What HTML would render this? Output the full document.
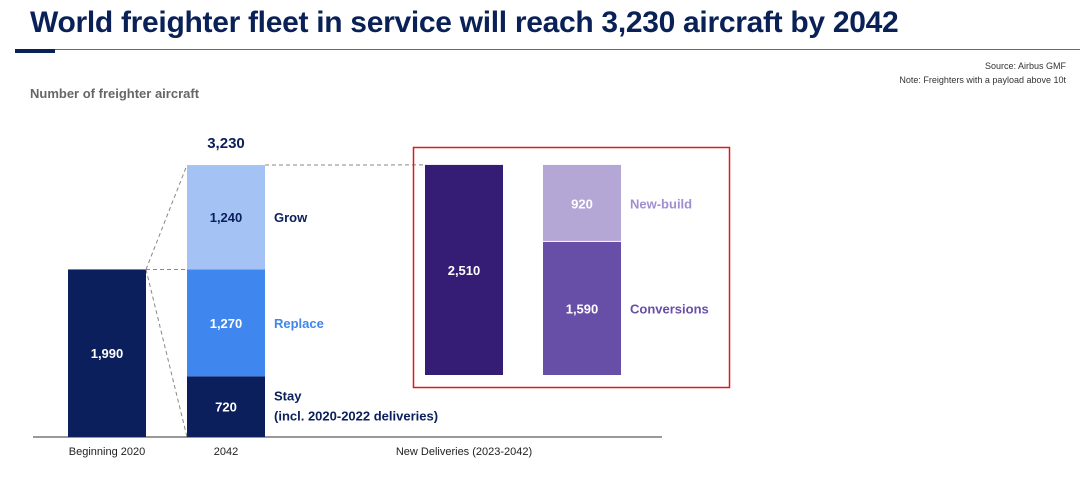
<!DOCTYPE html>
<html><head><meta charset="utf-8">
<style>
body{margin:0;width:1080px;height:485px;background:#fff;overflow:hidden;font-family:"Liberation Sans",Arial,sans-serif;position:relative}
</style></head>
<body>
<div style="position:absolute;left:30px;top:6px;font-size:30px;font-weight:bold;color:#0a2158;letter-spacing:-0.3px">World freighter fleet in service will reach 3,230 aircraft by 2042</div>
<div style="position:absolute;left:15px;top:49px;width:1065px;height:1px;background:#5a6a8a"></div>
<div style="position:absolute;left:15px;top:49px;width:40px;height:4px;background:#0a2158"></div>
<div style="position:absolute;right:14px;top:59px;font-size:9px;color:#333;text-align:right;line-height:14px">Source: Airbus GMF<br>Note: Freighters with a payload above 10t</div>
<div style="position:absolute;left:30px;top:86px;font-size:13px;font-weight:bold;color:#666">Number of freighter aircraft</div>
<svg id="chart" width="1080" height="485" style="position:absolute;left:0;top:0" font-family="Liberation Sans, Arial, sans-serif"></svg>
<script>
const fleet2020 = [1990];
const fleet2042Labels = ["Stay", "Replace", "Grow"];
const fleet2042Values = [720, 1270, 1240];
const deliveriesTotal = [2510];
const deliveriesLabels = ["Conversions", "New-build"];
const deliveriesValues = [1590, 920];
const categories = ["Beginning 2020", "2042", "New Deliveries (2023-2042)"];

const svg = document.getElementById('chart');
const NS = 'http://www.w3.org/2000/svg';
function mk(tag, attrs, parent){const e=document.createElementNS(NS,tag);for(const k in attrs)e.setAttribute(k,attrs[k]);(parent||svg).appendChild(e);return e;}
const fmt = v => v.toLocaleString('en-US');
const base = 437, sL = 0.0842;
const yL = v => base - v*sL;
const base2 = 375, sR = 0.0837;
const yR = v => base2 - v*sR;
const W = 78;

// axis line
let ax = mk('line',{x1:33,x2:662,y1:base,y2:base,stroke:'#333','stroke-width':1});



// bar 2020
const x0=68;
let b=mk('rect',{x:x0,y:yL(fleet2020[0]),width:W,height:fleet2020[0]*sL,fill:'#0a1f5c'});


let t=mk('text',{x:x0+W/2,y:(yL(fleet2020[0])+base)/2+5,'text-anchor':'middle','font-size':13,'font-weight':'bold',fill:'#fff'});t.textContent=fmt(fleet2020[0]);



// stacked 2042
const x1=187, cols2042=['#0a1f5c','#3f86ee','#a4c2f4'], txtCol=['#fff','#fff','#0a1f5c'], lblCol=['#0a1f5c','#3f86ee','#0a1f5c'];
let cum=0;
fleet2042Values.forEach((v,i)=>{
  const top=yL(cum+v), bot=yL(cum);
  const r=mk('rect',{x:x1,y:top,width:W,height:bot-top,fill:cols2042[i]});
  
  
  const vt=mk('text',{x:x1+W/2,y:(top+bot)/2+5,'text-anchor':'middle','font-size':13,'font-weight':'bold',fill:txtCol[i]});vt.textContent=fmt(v);
  
  
  const lt=mk('text',{x:x1+W+9,y:(top+bot)/2+(i===0?-6:5),'font-size':13,'font-weight':'bold',fill:lblCol[i]});lt.textContent=fleet2042Labels[i];
  
  
  if(i===0){const l2=mk('text',{x:x1+W+9,y:(top+bot)/2+14,'font-size':13,'font-weight':'bold',fill:lblCol[i]});l2.textContent='(incl. 2020-2022 deliveries)';
  
  }
  cum+=v;
});
const total=cum;
let tt=mk('text',{x:x1+W/2,y:yL(total)-17,'text-anchor':'middle','font-size':15,'font-weight':'bold',fill:'#0a1f5c'});tt.textContent=fmt(total);



// dashed connectors
const dash={stroke:'#888','stroke-width':1,'stroke-dasharray':'4,3',fill:'none'};
[[x0+W,yL(fleet2020[0]),x1,yL(total)],[x0+W,yL(fleet2020[0]),x1,yL(fleet2020[0])],[x0+W,yL(fleet2020[0]),x1,base],[x1+W,yL(total),425,yR(deliveriesTotal[0])]].forEach((c,i)=>{
  const l=mk('line',Object.assign({x1:c[0],y1:c[1],x2:c[2],y2:c[3]},dash));
  
  
});

// red box
let box=mk('rect',{x:413.5,y:147.5,width:316,height:240,fill:'none',stroke:'#e0191f','stroke-width':1.5});



// deliveries total
const x2=425;
let d=mk('rect',{x:x2,y:yR(deliveriesTotal[0]),width:W,height:deliveriesTotal[0]*sR,fill:'#351c75'});


let dt=mk('text',{x:x2+W/2,y:(yR(deliveriesTotal[0])+base2)/2+5,'text-anchor':'middle','font-size':13,'font-weight':'bold',fill:'#fff'});dt.textContent=fmt(deliveriesTotal[0]);



// split
const x3=543, colsR=['#674ea7','#b4a7d6'], lblR=['#674ea7','#9f8fd0'];
cum=0;
deliveriesValues.forEach((v,i)=>{
  const top=yR(cum+v), bot=yR(cum);
  const r=mk('rect',{x:x3,y:top,width:W,height:bot-top-(i===0?0:1),fill:colsR[i]});
  
  
  const vt=mk('text',{x:x3+W/2,y:(top+bot)/2+5,'text-anchor':'middle','font-size':13,'font-weight':'bold',fill:'#fff'});vt.textContent=fmt(v);
  
  
  const lt=mk('text',{x:x3+W+9,y:(top+bot)/2+5,'font-size':13,'font-weight':'bold',fill:lblR[i]});lt.textContent=deliveriesLabels[i];
  
  
  cum+=v;
});

// category labels
const catX=[x0+W/2, x1+W/2, 464];
categories.forEach((c,i)=>{
  const ct=mk('text',{x:catX[i],y:455,'text-anchor':'middle','font-size':11,fill:'#222'});ct.textContent=c;
  
  
});
</script>
</body></html>
